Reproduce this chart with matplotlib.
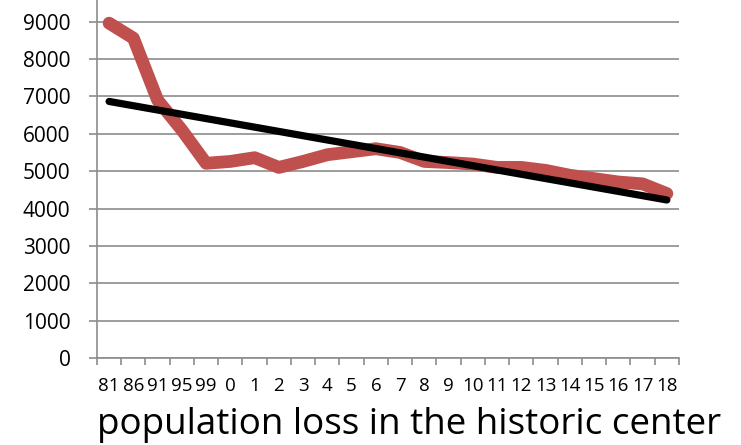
import numpy as np
import matplotlib
matplotlib.use('Agg')
import matplotlib.pyplot as plt

# data
years = ['81', '86', '91', '95', '99', '0', '1', '2', '3', '4', '5', '6',
         '7', '8', '9', '10', '11', '12', '13', '14', '15', '16', '17', '18']
population = [8960, 8560, 6900, 6100, 5210, 5260, 5360, 5100, 5260, 5440,
              5520, 5600, 5500, 5260, 5230, 5190, 5100, 5100, 5020, 4890,
              4800, 4710, 4660, 4400]
y_ticks = [0, 1000, 2000, 3000, 4000, 5000, 6000, 7000, 8000, 9000]

plt.rcParams['font.family'] = ['Open Sans', 'DejaVu Sans']

fig = plt.figure(figsize=(7.41, 4.45), dpi=100)
ax = fig.add_axes([0.1309, 0.1955, 0.9163 - 0.1309, 1 - 0.1955])

x = np.arange(len(years))
ax.plot(x, population, color='#C0504D', lw=9.2, solid_capstyle='round',
        solid_joinstyle='round', zorder=3)

# linear trendline like excel
slope, intercept = np.polyfit(x, population, 1)
ax.plot(x[[0, -1]], intercept + slope * x[[0, -1]], color='black', lw=5.2,
        solid_capstyle='round', zorder=4)

ax.set_xlim(-0.5, len(years) - 0.5)
ax.set_ylim(0, 9580)
ax.set_yticks(y_ticks)
ax.yaxis.grid(True, color='#8c8c8c', lw=1.2)
ax.set_axisbelow(True)

# ticks between categories, labels in the middle
ax.set_xticks(np.arange(-0.5, len(years), 1.0))
ax.set_xticklabels([])
ax.set_xticks(x, minor=True)
ax.set_xticklabels(years, minor=True, fontsize=13.5)
ax.tick_params(axis='x', which='major', length=5, width=1.2, color='#8c8c8c')
ax.tick_params(axis='x', which='minor', length=0, pad=14)
ax.tick_params(axis='y', length=6, width=1.2, color='#8c8c8c', labelsize=15, pad=13)

for side in ['top', 'right']:
    ax.spines[side].set_visible(False)
for side in ['left', 'bottom']:
    ax.spines[side].set_color('#8c8c8c')
    ax.spines[side].set_linewidth(1.2)

ax.set_xlabel('population loss in the historic center', fontsize=26.5,
              labelpad=8.5, x=0.536)

fig.savefig('out.png', dpi=100)
